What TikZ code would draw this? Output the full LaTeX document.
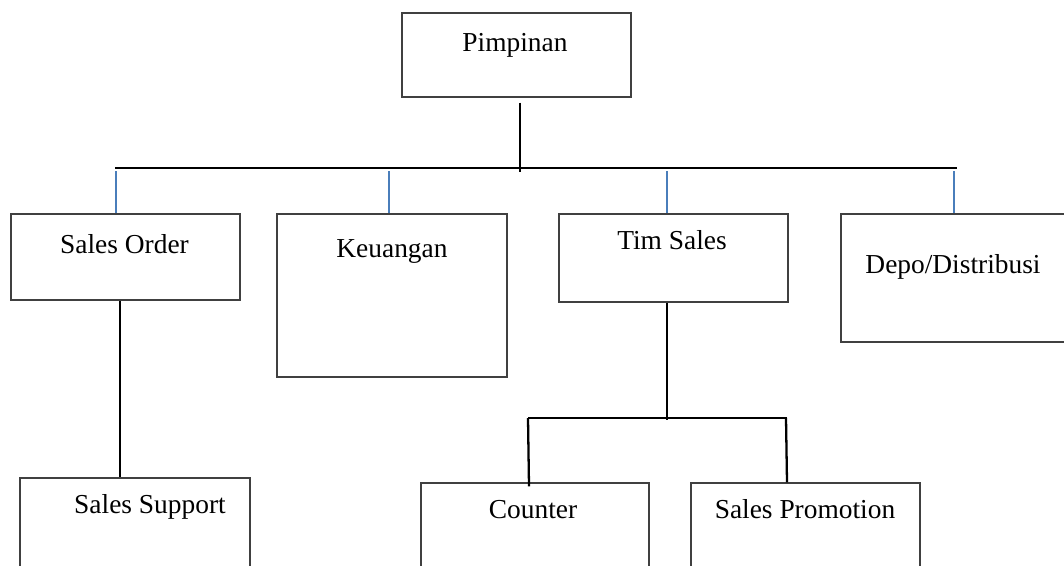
\documentclass[tikz,border=0pt]{standalone}
\usepackage{fontspec}
\setmainfont{Liberation Serif}
\definecolor{TickBlue}{HTML}{4A7EBB}
\definecolor{BoxLine}{HTML}{404040}
\usetikzlibrary{calc}

\begin{document}
\begin{tikzpicture}[x=0.02cm, y=-0.02cm,
  unitbox/.style={rectangle, draw=BoxLine, line width=0.6pt, inner sep=0pt},
  unitlbl/.style={font=\fontsize{15.6}{18}\selectfont, anchor=base, inner sep=0pt},
  trunk/.style={draw=black, line width=1.3pt},
  blueline/.style={draw=TickBlue, line width=0.8pt},
]
\def\pxw{0.02}
\clip (0,0) rectangle (1064,565);
\fill[white] (0,0) rectangle (1064,565);

% boxes
\node[unitbox, minimum width={229*\pxw cm}, minimum height={84*\pxw cm}]  (pim)  at (516.5,55)  {};
\node[unitbox, minimum width={229*\pxw cm}, minimum height={86*\pxw cm}]  (so)   at (125.5,257) {};
\node[unitbox, minimum width={230*\pxw cm}, minimum height={163*\pxw cm}] (keu)  at (392,295.5) {};
\node[unitbox, minimum width={229*\pxw cm}, minimum height={88*\pxw cm}]  (ts)   at (673.5,258) {};
\node[unitbox, minimum width={229*\pxw cm}, minimum height={128*\pxw cm}] (depo) at (955.5,278) {};
\node[unitbox, minimum width={230*\pxw cm}, minimum height={122*\pxw cm}] (ss)   at (135,539)   {};
\node[unitbox, minimum width={228*\pxw cm}, minimum height={117*\pxw cm}] (co)   at (535,541.5) {};
\node[unitbox, minimum width={229*\pxw cm}, minimum height={117*\pxw cm}] (sp)   at (805.5,541.5) {};

% labels
\node[unitlbl] (pim-t)  at (515,51)    {Pimpinan};
\node[unitlbl] (so-t)   at (124.5,253) {Sales Order};
\node[unitlbl] (keu-t)  at (392,257)   {Keuangan};
\node[unitlbl] (ts-t)   at (672,249)   {Tim Sales};
\node[unitlbl] (depo-t) at (953,273)   {Depo/Distribusi};
\node[unitlbl] (ss-t)   at (150,513)   {Sales Support};
\node[unitlbl] (co-t)   at (533,518)   {Counter};
\node[unitlbl] (sp-t)   at (805,518)   {Sales Promotion};

% top bus
\coordinate (bus-w) at (115,168);
\coordinate (bus-e) at (957,168);
\coordinate (pim-dn) at (520,172);
\draw[trunk] ([yshift={-5*\pxw cm}]pim-dn |- pim.south) -- (pim-dn);
\draw[trunk] (bus-w) -- (bus-e);

\coordinate (so-tk)   at (116,171);
\coordinate (keu-tk)  at (389,171);
\coordinate (ts-tk)   at (667,171);
\coordinate (depo-tk) at (954,171);
\draw[blueline] (so-tk) -- (so-tk |- so.north);
\draw[blueline] (keu-tk) -- (keu-tk |- keu.north);
\draw[blueline] (ts-tk) -- (ts-tk |- ts.north);
\draw[blueline] (depo-tk) -- (depo-tk |- depo.north);

% lower branches
\coordinate (so-dn) at (120,300);
\draw[trunk] (so-dn |- so.south) -- (so-dn |- ss.north);

\coordinate (ts-dn) at (667,420);
\coordinate (sub-w) at (528,418);
\coordinate (sub-e) at (787,418);
\draw[trunk] (ts-dn |- ts.south) -- (ts-dn);
\draw[trunk] (sub-w) -- (sub-e);
\draw[trunk] (sub-w) -- ($(sub-w |- co.north)+(1,4)$);
\draw[trunk] ($(sub-e)+(-1,0)$) -- (sub-e |- sp.north);
\end{tikzpicture}
\end{document}
